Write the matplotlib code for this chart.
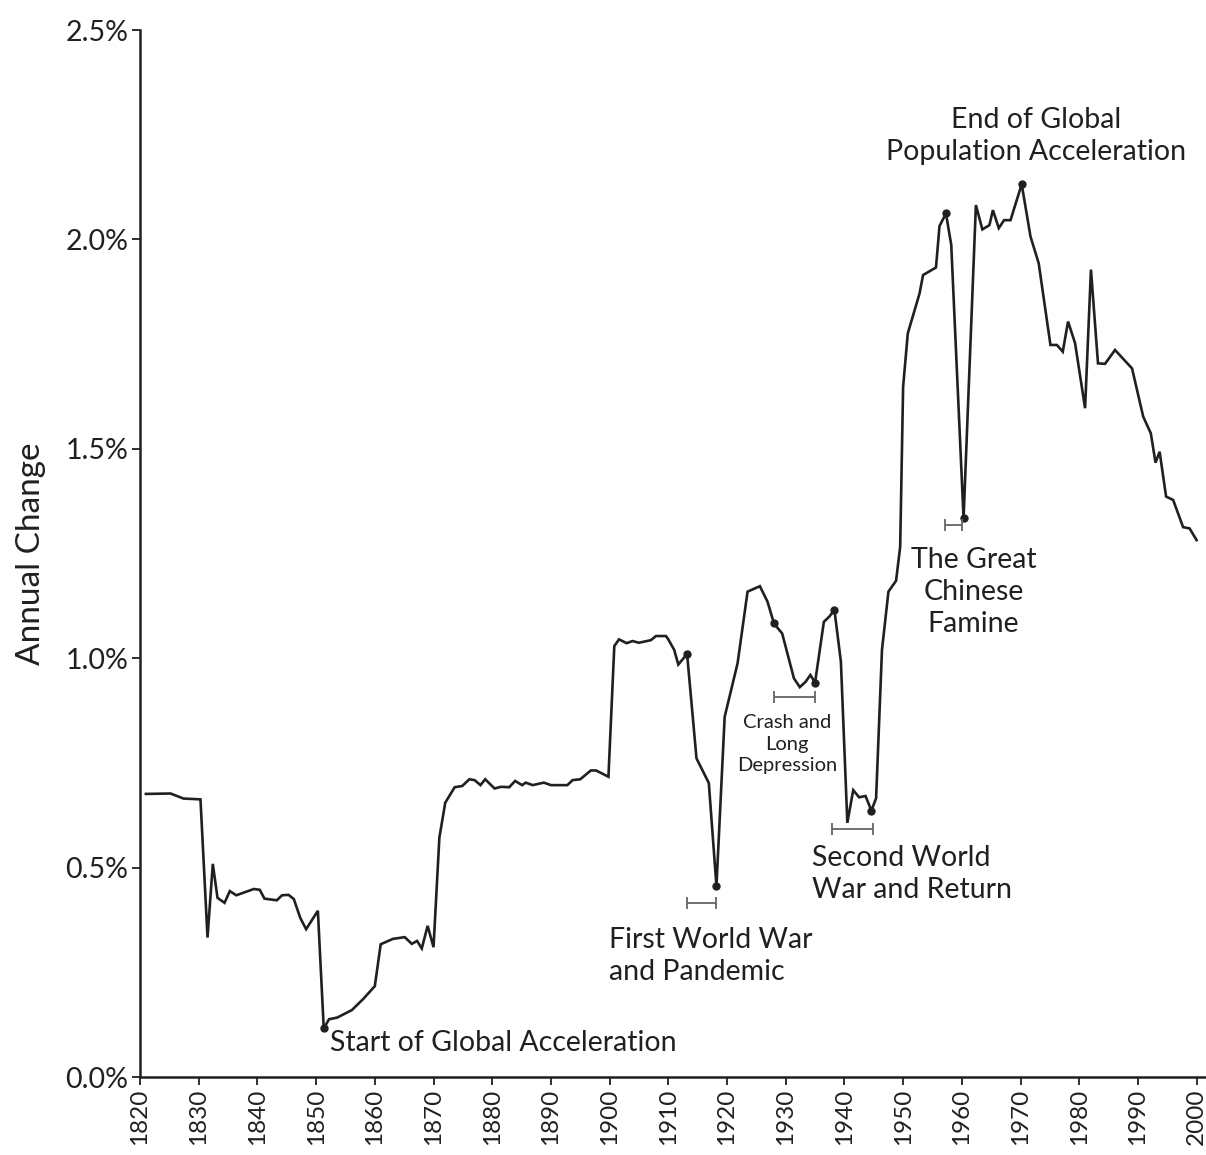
import matplotlib
matplotlib.use("Agg")
import matplotlib.pyplot as plt
import numpy as np

# annual world population growth (percent)
years = [1821, 1825.2, 1827.4, 1830.3, 1831.5, 1832.4, 1833.2, 1834.4, 1835.3, 1836.4,
         1839.4, 1840.4, 1841.2, 1843.3, 1844.2, 1845.3, 1846.2, 1847.3, 1848.3, 1850.3,
         1851.3, 1852.2, 1853.6, 1856.1, 1858.0, 1860.0, 1861.0, 1863.1, 1865.1, 1866.3,
         1867.2, 1868.0, 1869.0, 1870.0, 1871.0, 1872.0, 1873.6, 1874.9, 1876.1, 1877.0,
         1878.0, 1878.8, 1880.4, 1881.5, 1882.9, 1883.9, 1885.1, 1885.7, 1886.9, 1888.8,
         1890.0, 1892.8, 1893.7, 1895.0, 1896.8, 1897.7, 1899.8, 1900.8, 1901.6, 1902.9,
         1903.9, 1905.0, 1907.0, 1907.9, 1909.6, 1910.0, 1911.0, 1911.7, 1913.2, 1914.8,
         1916.9, 1918.2, 1919.6, 1921.8, 1923.5, 1925.6, 1926.9, 1928.0, 1929.4, 1931.4,
         1932.4, 1933.4, 1934.2, 1935.0, 1936.5, 1937.4, 1938.3, 1939.4, 1940.5, 1941.5,
         1942.5, 1943.6, 1944.6, 1945.4, 1946.4, 1947.5, 1948.8, 1949.5, 1950.0, 1950.8,
         1952.8, 1953.4, 1955.6, 1956.2, 1957.3, 1958.2, 1960.3, 1962.4, 1963.5, 1964.7,
         1965.3, 1966.3, 1967.2, 1968.3, 1970.2, 1971.7, 1973.1, 1975.1, 1976.2, 1977.2,
         1978.1, 1979.3, 1981.0, 1982.0, 1983.2, 1984.4, 1986.1, 1989.0, 1990.9, 1992.2,
         1993.0, 1993.7, 1994.8, 1996.0, 1997.7, 1998.8, 2000.0]
growth = [0.676, 0.677, 0.665, 0.663, 0.333, 0.509, 0.428, 0.416, 0.444, 0.434,
          0.449, 0.447, 0.426, 0.422, 0.434, 0.435, 0.425, 0.380, 0.353, 0.397,
          0.116, 0.138, 0.142, 0.160, 0.186, 0.217, 0.317, 0.330, 0.334, 0.318,
          0.325, 0.307, 0.361, 0.310, 0.572, 0.655, 0.692, 0.695, 0.711, 0.709,
          0.697, 0.711, 0.689, 0.693, 0.692, 0.707, 0.697, 0.703, 0.697, 0.703,
          0.697, 0.697, 0.709, 0.711, 0.732, 0.732, 0.717, 1.029, 1.045, 1.036,
          1.041, 1.037, 1.043, 1.053, 1.053, 1.045, 1.020, 0.985, 1.010, 0.761,
          0.702, 0.456, 0.860, 0.988, 1.159, 1.172, 1.135, 1.083, 1.059, 0.952,
          0.931, 0.944, 0.960, 0.942, 1.087, 1.099, 1.115, 0.992, 0.607, 0.685,
          0.668, 0.671, 0.636, 0.666, 1.020, 1.159, 1.185, 1.266, 1.648, 1.776,
          1.871, 1.915, 1.933, 2.032, 2.062, 1.987, 1.334, 2.082, 2.024, 2.034,
          2.070, 2.027, 2.046, 2.046, 2.132, 2.007, 1.943, 1.748, 1.748, 1.732,
          1.804, 1.752, 1.597, 1.928, 1.704, 1.703, 1.736, 1.692, 1.577, 1.537,
          1.467, 1.493, 1.386, 1.378, 1.313, 1.310, 1.282]

# points marked with a dot
marked_years = [1851.3, 1913.2, 1918.2, 1928.0, 1935.0, 1938.3, 1944.6, 1957.3, 1960.3, 1970.2]

# period brackets: (start, end, level)
spans_start = [1913.2, 1928.0, 1937.9, 1957.1]
spans_end = [1918.2, 1935.0, 1944.8, 1960.1]
spans_level = [0.416, 0.907, 0.592, 1.318]

xticks = list(range(1820, 2001, 10))
yticks = [0.0, 0.5, 1.0, 1.5, 2.0, 2.5]

plt.rcParams['font.family'] = ['Lato', 'DejaVu Sans']
ink = '#231f20'

fig = plt.figure(figsize=(12.06, 11.55), dpi=100)
ax = fig.add_axes([0.1161, 0.0675, 0.8839, 0.9065])

ax.plot(years, growth, color=ink, lw=1.9, solid_joinstyle='miter')
idx = [years.index(y) for y in marked_years]
ax.plot([years[i] for i in idx], [growth[i] for i in idx], 'o', color=ink, ms=5)

for s, e, lv in zip(spans_start, spans_end, spans_level):
    ax.errorbar((s + e) / 2, lv, xerr=(e - s) / 2, color='#666666', lw=1.3,
                capsize=4, capthick=1.3, fmt='none')

fs = 20.5
ax.text(1852.3, 0.081, 'Start of Global Acceleration', fontsize=fs, color=ink,
        ha='left', va='center')
ax.text(1899.9, 0.289, 'First World War\nand Pandemic', fontsize=fs, color=ink,
        ha='left', va='center', linespacing=1.3)
ax.text(1930.2, 0.795, 'Crash and\nLong\nDepression', fontsize=14.5, color=ink,
        ha='center', va='center', linespacing=1.3)
ax.text(1934.5, 0.485, 'Second World\nWar and Return', fontsize=fs, color=ink,
        ha='left', va='center', linespacing=1.3)
ax.text(1962.0, 1.158, 'The Great\nChinese\nFamine', fontsize=fs, color=ink,
        ha='center', va='center', linespacing=1.3)
ax.text(1972.7, 2.247, 'End of Global\nPopulation Acceleration', fontsize=fs, color=ink,
        ha='center', va='center', linespacing=1.3)

ax.set_xlim(1820, 2001.6)
ax.set_ylim(0, 2.5)
ax.set_xticks(xticks)
ax.set_xticklabels([str(x) for x in xticks], rotation=90, fontsize=17.5)
ax.set_yticks(yticks)
ax.set_yticklabels(['%.1f%%' % y for y in yticks], fontsize=20.5)
ax.set_ylabel('Annual Change', fontsize=24, color=ink, labelpad=14)

for side in ['top', 'right']:
    ax.spines[side].set_visible(False)
for side in ['left', 'bottom']:
    ax.spines[side].set_linewidth(1.8)
    ax.spines[side].set_color(ink)
ax.tick_params(direction='out', length=6, width=1.3, colors=ink, pad=2.5)

fig.savefig('out.png', dpi=100)
